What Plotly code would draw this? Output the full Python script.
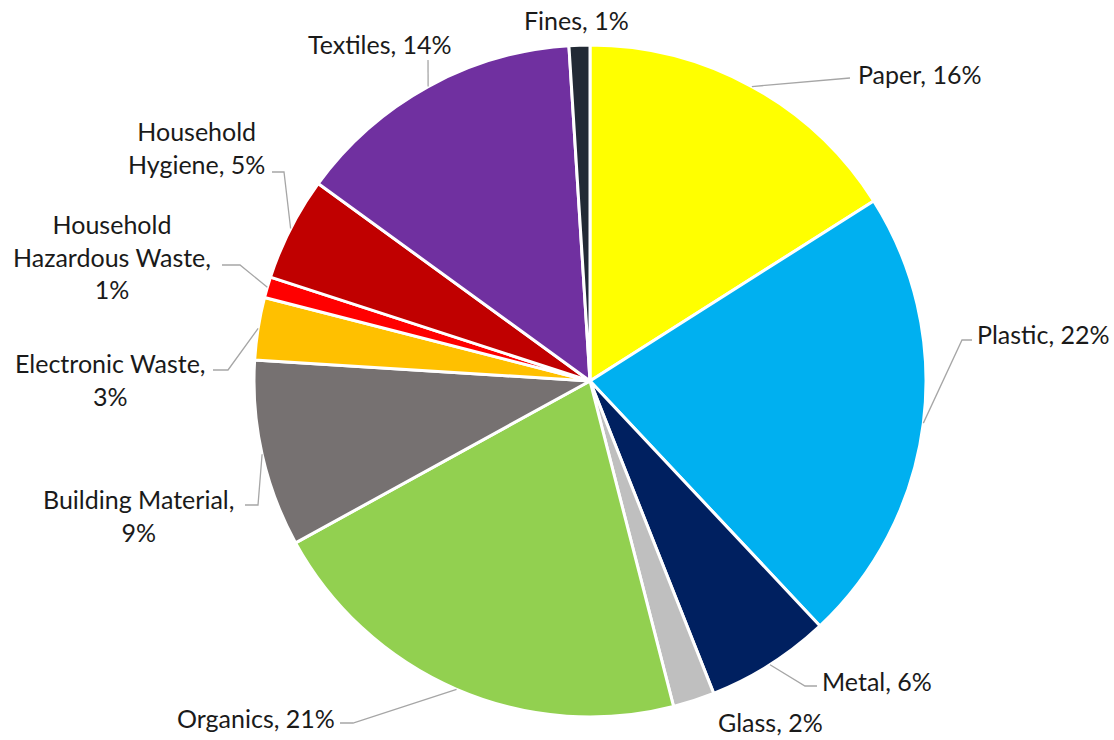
import math
import plotly.graph_objects as go

# Waste composition, clockwise from 12 o'clock
categories = ["Paper", "Plastic", "Metal", "Glass", "Organics", "Building Material",
              "Electronic Waste", "Household Hazardous Waste", "Household Hygiene",
              "Textiles", "Fines"]
shares = [16, 22, 6, 2, 21, 9, 3, 1, 5, 14, 1]
label_text = ["Paper, 16%", "Plastic, 22%", "Metal, 6%", "Glass, 2%", "Organics, 21%",
              "Building Material,<br>9%", "Electronic Waste,<br>3%",
              "Household<br>Hazardous Waste,<br>1%", "Household<br>Hygiene, 5%",
              "Textiles, 14%", "Fines, 1%"]
colors = ["#FFFF00", "#00B0F0", "#002060", "#BFBFBF", "#92D050", "#767171",
          "#FFC000", "#FF0000", "#C00000", "#7030A0", "#222A35"]

# Page geometry (pixels)
W, H = 1114, 740
CX, CY, R = 590, 381, 336

# Label placement: (x, y, xanchor) in pixels, and the leader-line path
# from the slice edge through an elbow to the label.
label_pos = {
    "Paper": (856, 74, "left"),
    "Plastic": (975, 334, "left"),
    "Metal": (820, 681, "left"),
    "Glass": (770, 722, "center"),
    "Organics": (337, 718, "right"),
    "Building Material": (138, 515, "center"),
    "Electronic Waste": (110, 379, "center"),
    "Household Hazardous Waste": (112, 256, "center"),
    "Household Hygiene": (196, 148, "center"),
    "Textiles": (380, 44, "center"),
    "Fines": (576, 20, "center"),
}
leader = {
    "Paper": [(850, 78)],
    "Plastic": [(962, 340), (972, 340)],
    "Metal": [(805, 686), (817, 686)],
    "Organics": [(353, 723), (340, 723)],
    "Building Material": [(258, 505), (245, 505)],
    "Electronic Waste": [(228, 370), (213, 370)],
    "Household Hazardous Waste": [(240, 265), (222, 265)],
    "Household Hygiene": [(284, 172), (272, 172)],
    "Textiles": [(428, 60)],
}


def px(x):
    return x / W


def py(y):
    return 1 - y / H


fig = go.Figure(go.Pie(
    labels=categories,
    values=shares,
    sort=False,
    direction="clockwise",
    rotation=0,
    textinfo="none",
    hoverinfo="label+percent",
    marker=dict(colors=colors, line=dict(color="white", width=3)),
    domain=dict(x=[px(CX - R), px(CX + R)], y=[py(CY + R), py(CY - R)]),
    showlegend=False,
))

font = dict(family="Lato, Carlito, Calibri, sans-serif", size=25, color="#1a1a1a")
total = sum(shares)
cum = 0
shapes = []
annotations = []
for name, val, txt in zip(categories, shares, label_text):
    mid = (cum + val / 2) / total
    cum += val
    theta = 2 * math.pi * mid
    sx = CX + R * math.sin(theta)
    sy = CY - R * math.cos(theta)
    if name in leader:
        pts = [(sx, sy)] + leader[name]
        path = "M " + " L ".join(f"{px(x):.5f},{py(y):.5f}" for x, y in pts)
        shapes.append(dict(type="path", path=path, xref="paper", yref="paper",
                           line=dict(color="#A6A6A6", width=1.3)))
    lx, ly, anchor = label_pos[name]
    annotations.append(dict(text=txt, x=px(lx), y=py(ly), xref="paper", yref="paper",
                            xanchor=anchor, yanchor="middle", align="center",
                            showarrow=False, font=font))

fig.update_layout(
    width=W, height=H,
    margin=dict(l=0, r=0, t=0, b=0),
    paper_bgcolor="white",
    plot_bgcolor="white",
    shapes=shapes,
    annotations=annotations,
)

fig.write_html("out.html")
